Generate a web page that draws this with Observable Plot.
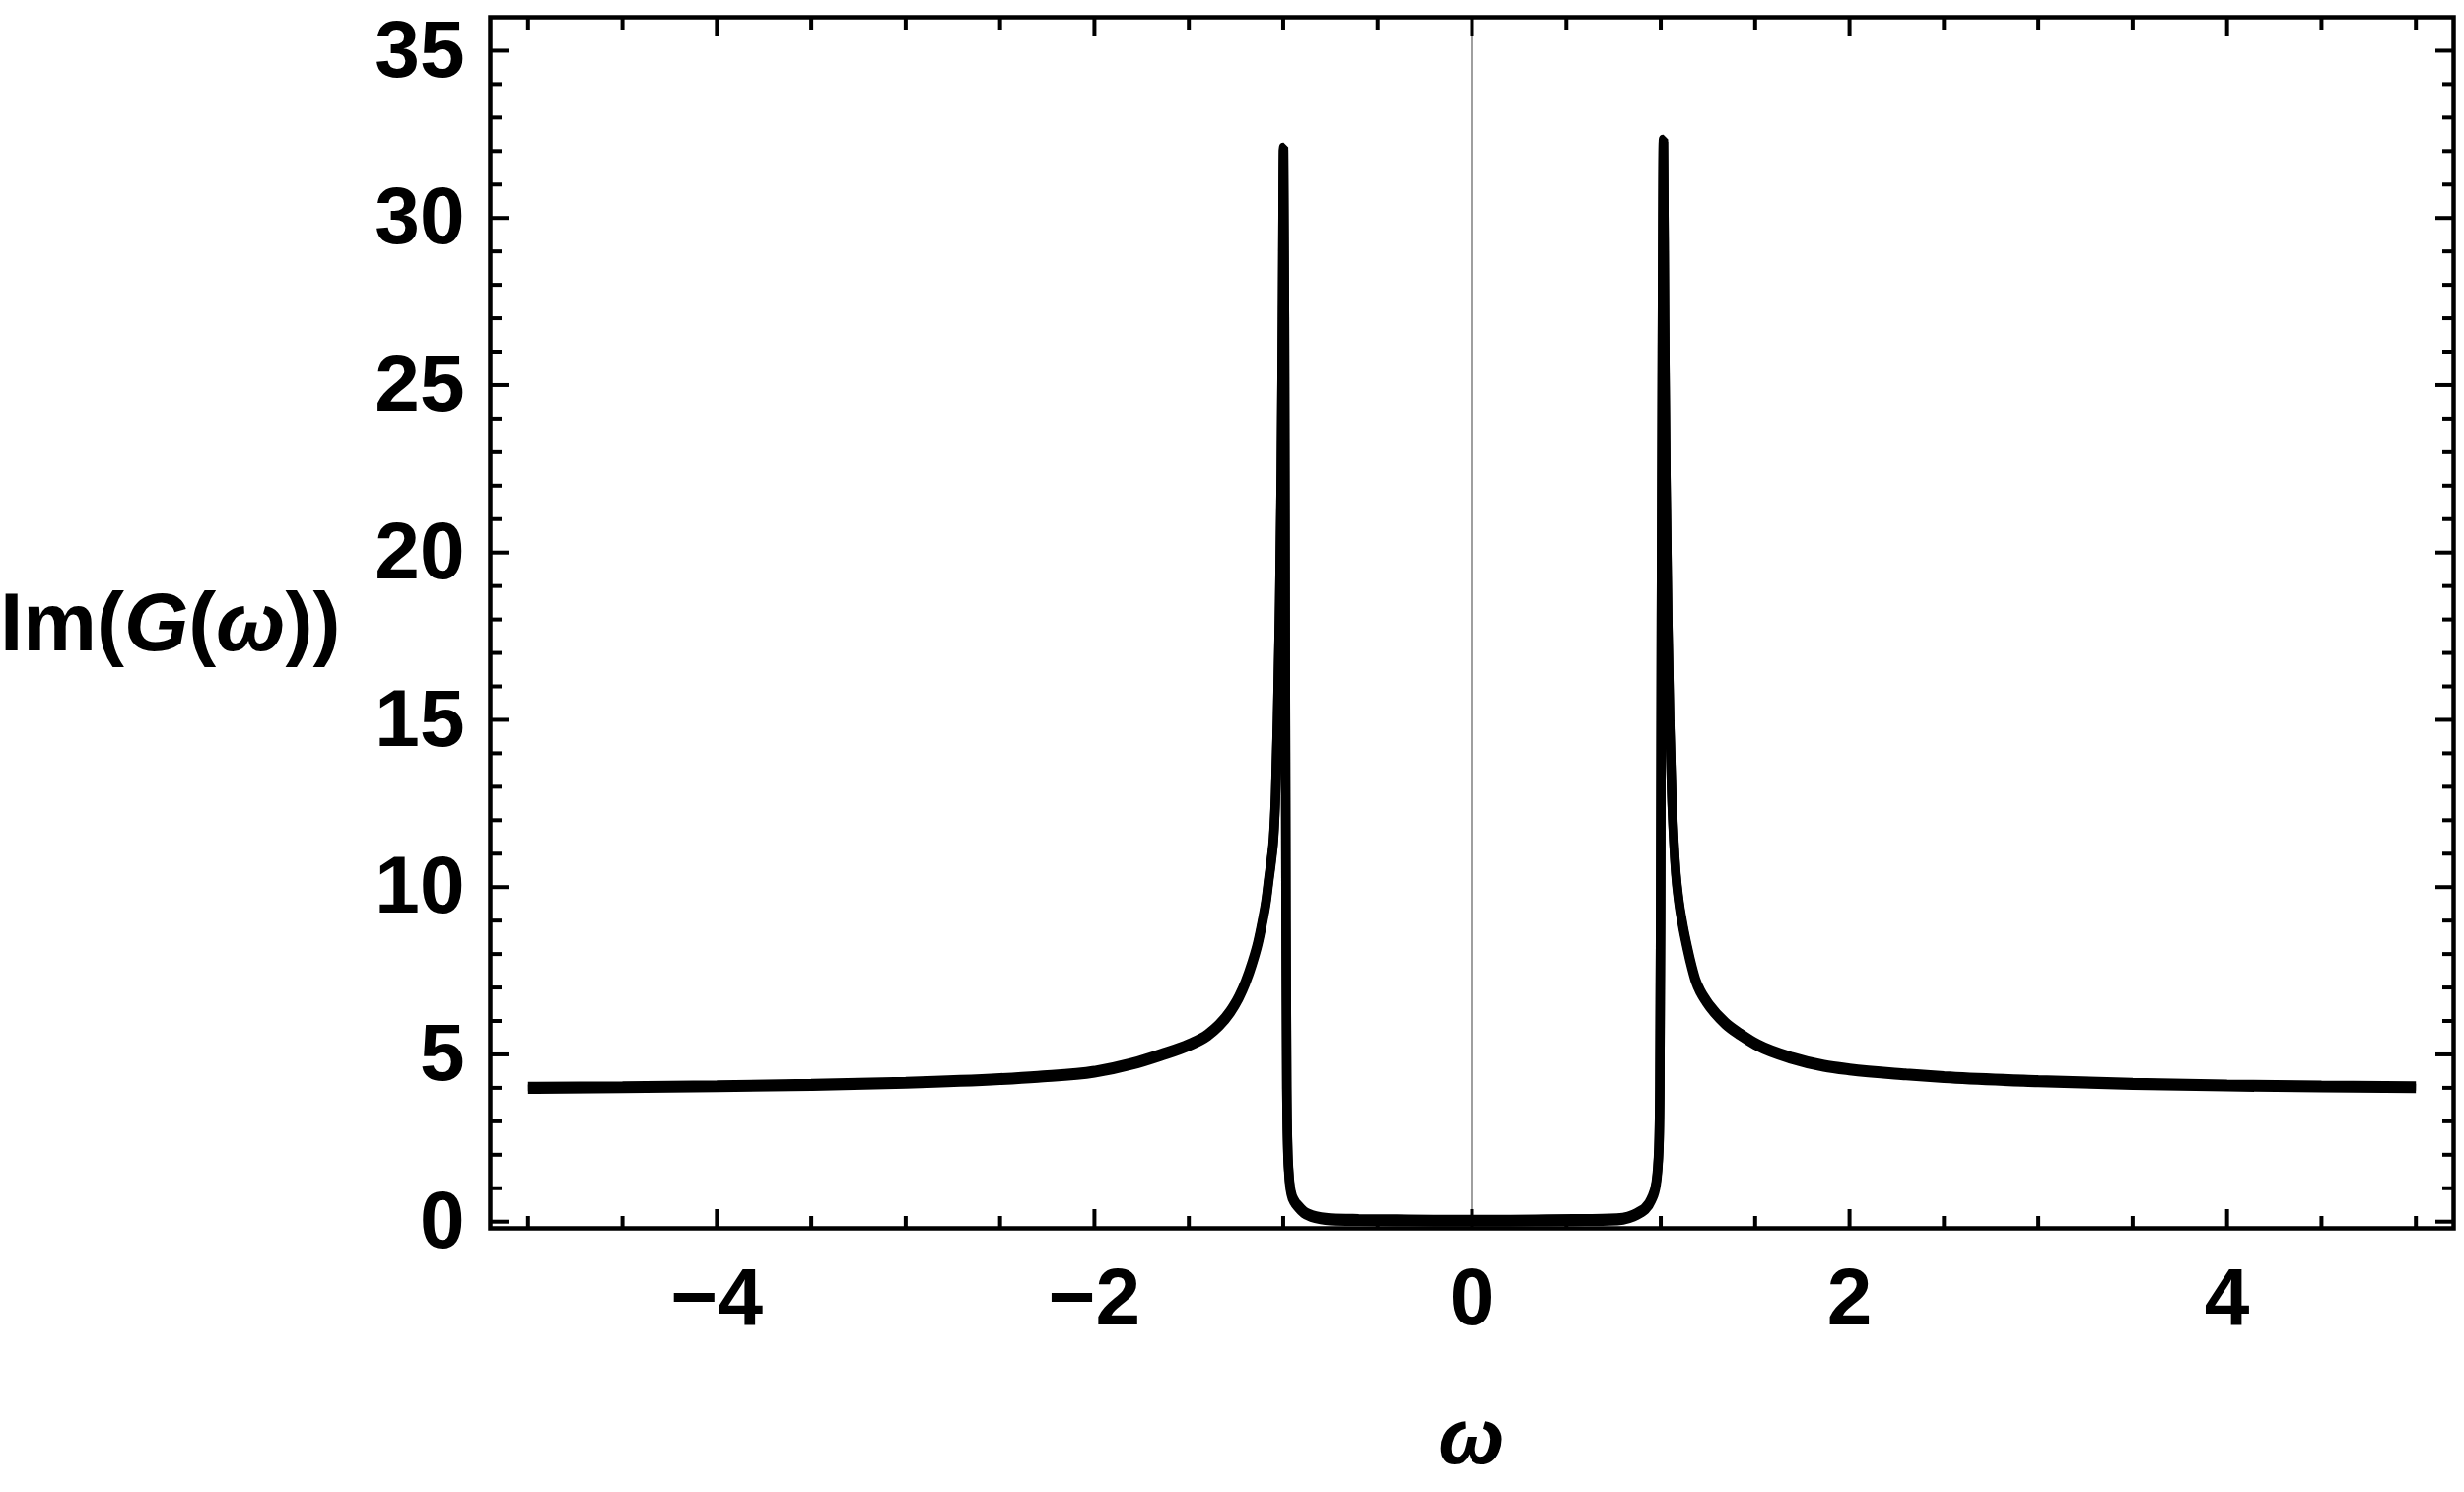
<!DOCTYPE html>
<html>
<head>
<meta charset="utf-8">
<script src="https://cdn.jsdelivr.net/npm/d3@7"></script>
<script src="https://cdn.jsdelivr.net/npm/@observablehq/plot@0.6"></script>
<style>
  html, body { margin: 0; padding: 0; background: #fff; }
  #chart { width: 2500px; height: 1514px; }
</style>
</head>
<body>
<div id="chart"></div>
<script>
// ω values
const omega = [
  -5.0, -4.5, -4.0, -3.5, -3.0, -2.5, -2.3, -2.0, -1.8, -1.65, -1.5, -1.4, -1.34, -1.28, -1.234, -1.2,
  -1.164, -1.135, -1.112, -1.09, -1.077, -1.062, -1.051, -1.04, -1.03, -1.02, -1.01, -1.004, -0.998,
  -0.993, -0.989, -0.985, -0.981, -0.976, -0.970, -0.958, -0.94, -0.92, -0.89, -0.85, -0.80, -0.75,
  -0.60, -0.40, -0.20, 0.0, 0.20, 0.40, 0.60, 0.73, 0.80, 0.855, 0.89, 0.914, 0.95, 0.976, 0.99,
  0.995, 0.999, 1.003, 1.008, 1.014, 1.02, 1.027, 1.037, 1.047, 1.058, 1.068, 1.08, 1.095, 1.115,
  1.14, 1.165, 1.185, 1.21, 1.24, 1.342, 1.42, 1.516, 1.69, 1.864, 2.0, 2.3, 2.5, 3.0, 3.5, 4.0, 4.5, 5.0
];
// Im(G(ω)) values
const imG = [
  4.00, 4.02, 4.05, 4.09, 4.15, 4.26, 4.33, 4.48, 4.72, 4.98, 5.28, 5.58, 5.87, 6.28, 6.72, 7.15,
  7.73, 8.30, 8.91, 9.60, 10.19, 10.85, 11.46, 12.8, 15.0, 18.0, 22.4, 27.0, 32.07,
  27.0, 18.0, 9.0, 4.0, 2.2, 1.45, 0.86, 0.60, 0.45, 0.28, 0.17, 0.10, 0.07,
  0.05, 0.04, 0.03, 0.03, 0.03, 0.04, 0.05, 0.06, 0.09, 0.18, 0.28, 0.37, 0.66, 1.15, 2.2,
  4.0, 9.0, 18.0, 26.0, 32.31, 27.0, 22.4, 18.0, 15.0, 12.8, 11.5, 10.4, 9.6, 8.9,
  8.2, 7.6, 7.2, 6.88, 6.6, 5.93, 5.6, 5.27, 4.90, 4.66, 4.55, 4.40, 4.32, 4.20, 4.12, 4.07, 4.04, 4.02
];

// Ticks
const xMajor = [-4, -2, 0, 2, 4];
const xMinor = [-5, -4.5, -3.5, -3, -2.5, -1.5, -1, -0.5, 0.5, 1, 1.5, 2.5, 3, 3.5, 4.5, 5];
const yMajor = [0, 5, 10, 15, 20, 25, 30, 35];
const yMinor = d3.range(1, 36).filter(v => v % 5 !== 0);

const points = omega.map((w, i) => ({w, g: imG[i]}));

const fmt = d => d < 0 ? "\u2212" + Math.abs(d) : String(d);
const tickStyle = {stroke: "black", strokeWidth: 4, tickFormat: () => "", label: null};
const labelStyle = {tickSize: 0, fontSize: 82, fontWeight: "bold", label: null};
const lineStyle = {x: "w", y: "g", stroke: "black", strokeWidth: 9.5, strokeLinejoin: "bevel", strokeLinecap: "butt", curve: "monotone-x"};

const chart = Plot.plot({
  width: 2500,
  height: 1514,
  marginLeft: 497,
  marginRight: 11,
  marginTop: 17,
  marginBottom: 268,
  x: {domain: [-5.2, 5.2]},
  y: {domain: [-0.2, 36.0]},
  style: {fontFamily: "'Liberation Sans', Arial, Helvetica, sans-serif", background: "white", color: "black"},
  marks: [
    Plot.ruleX([0], {stroke: "#6b6b6b", strokeWidth: 2.3}),
    Plot.line(points, {...lineStyle, dy: -1.3}),
    Plot.line(points, {...lineStyle, dy: 1.3}),
    Plot.frame({stroke: "black", strokeWidth: 4.5}),
    // bottom ticks (inward)
    Plot.axisX(xMajor, {anchor: "bottom", tickSize: -19, ...tickStyle}),
    Plot.axisX(xMinor, {anchor: "bottom", tickSize: -12, ...tickStyle}),
    // top ticks
    Plot.axisX(xMajor, {anchor: "top", tickSize: -19, ...tickStyle}),
    Plot.axisX(xMinor, {anchor: "top", tickSize: -12, ...tickStyle}),
    // left ticks
    Plot.axisY(yMajor, {anchor: "left", tickSize: -19, ...tickStyle}),
    Plot.axisY(yMinor, {anchor: "left", tickSize: -12, ...tickStyle}),
    // right ticks
    Plot.axisY(yMajor, {anchor: "right", tickSize: -19, ...tickStyle}),
    Plot.axisY(yMinor, {anchor: "right", tickSize: -12, ...tickStyle}),
    // tick labels
    Plot.axisX(xMajor, {anchor: "bottom", tickPadding: 39, tickFormat: fmt, ...labelStyle}),
    Plot.axisY(yMajor, {anchor: "left", tickPadding: 26, tickFormat: fmt, ...labelStyle})
  ]
});

document.getElementById("chart").appendChild(chart);

// Axis titles
const svg = d3.select(chart);
const ff = "'Liberation Sans', Arial, Helvetica, sans-serif";
const yl = svg.append("text")
  .attr("x", 0).attr("y", 660)
  .attr("text-anchor", "start")
  .attr("font-family", ff).attr("font-size", 84).attr("font-weight", "bold")
  .attr("fill", "black");
yl.append("tspan").text("Im(");
yl.append("tspan").attr("font-style", "italic").text("G");
yl.append("tspan").text("(");
yl.append("tspan").attr("font-style", "italic").text("\u03c9");
yl.append("tspan").text("))");

svg.append("text")
  .attr("x", 1493).attr("y", 1485)
  .attr("text-anchor", "middle")
  .attr("font-family", ff).attr("font-size", 80).attr("font-weight", "bold").attr("font-style", "italic")
  .attr("fill", "black")
  .text("\u03c9");
</script>
</body>
</html>
